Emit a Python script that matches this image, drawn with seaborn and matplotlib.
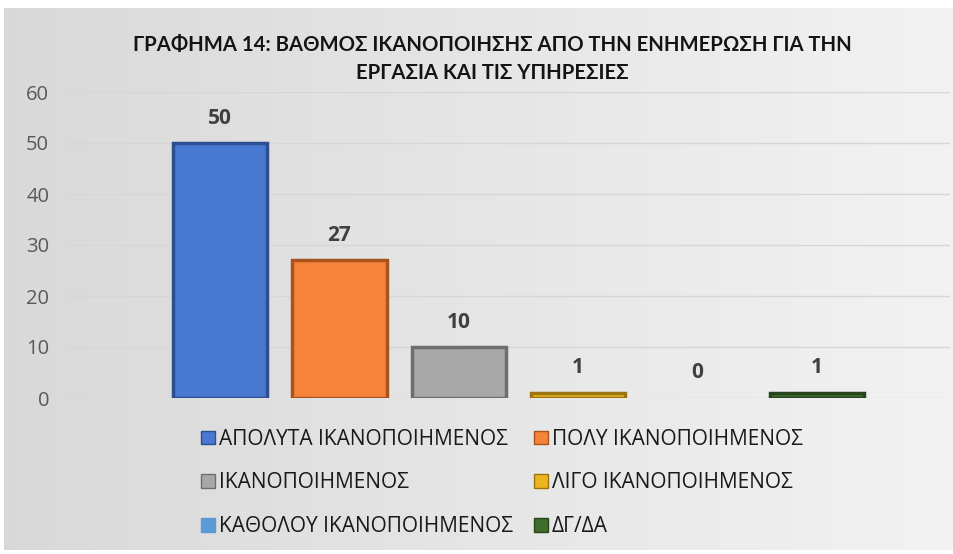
import numpy as np
import pandas as pd
import seaborn as sns
import matplotlib.pyplot as plt
from matplotlib.patches import Patch

categories = ['ΑΠΟΛΥΤΑ ΙΚΑΝΟΠΟΙΗΜΕΝΟΣ', 'ΠΟΛΥ ΙΚΑΝΟΠΟΙΗΜΕΝΟΣ', 'ΙΚΑΝΟΠΟΙΗΜΕΝΟΣ',
              'ΛΙΓΟ ΙΚΑΝΟΠΟΙΗΜΕΝΟΣ', 'ΚΑΘΟΛΟΥ ΙΚΑΝΟΠΟΙΗΜΕΝΟΣ', 'ΔΓ/ΔΑ']
values = [50, 27, 10, 1, 0, 1]
yticks = [0, 10, 20, 30, 40, 50, 60]
title = 'ΓΡΑΦΗΜΑ 14: ΒΑΘΜΟΣ ΙΚΑΝΟΠΟΙΗΣΗΣ ΑΠΟ ΤΗΝ ΕΝΗΜΕΡΩΣΗ ΓΙΑ ΤΗΝ\nΕΡΓΑΣΙΑ ΚΑΙ ΤΙΣ ΥΠΗΡΕΣΙΕΣ'

colors = ['#4878D0', '#F5843A', '#A8A8A8', '#EDB421', '#5B9BD5', '#3F6E2C']
edges = ['#2E4F8F', '#A9541D', '#6E6E6E', '#9C7410', '#5B9BD5', '#26451A']

df = pd.DataFrame({'cat': categories, 'val': values})

sns.set_style('white')
plt.rcParams['font.family'] = ['Open Sans', 'DejaVu Sans']

W, H = 954, 554
fig = plt.figure(figsize=(W / 100, H / 100), dpi=100)
fig.patch.set_facecolor('white')

# chart area background with soft horizontal gradient
bg = fig.add_axes([4 / W, 4 / H, (W - 4) / W, (H - 12) / H])
shade = 0.85 + 0.10 * np.linspace(0, 1, 256)
img = np.dstack([shade, shade, shade]).repeat(2, axis=0)
bg.imshow(img, aspect='auto', extent=[0, 1, 0, 1])
bg.set_axis_off()

# plot area: y=0 at px 398, y=60 at px 92
y0, y60 = 398, 92
ax = fig.add_axes([70 / W, 1 - y0 / H, (950 - 70) / W, (y0 - y60) / H])
ax.patch.set_alpha(0)

sns.barplot(data=df, x='cat', y='val', hue='cat', palette=colors, width=0.79,
            dodge=False, legend=False, ax=ax, saturation=1)
for p, ec, v in zip(ax.patches, edges, values):
    p.set_edgecolor(ec)
    p.set_linewidth(2.5 if v > 0 else 0)

ax.set_ylim(0, 60)
ax.set_xlim(-1.256, 6.114)
ax.set_yticks(yticks)
ax.set_yticklabels([str(t) for t in yticks], fontsize=14.5, color='#595959')
ax.tick_params(axis='y', length=0, pad=15)
ax.set_xticks([])
ax.set_xlabel('')
ax.set_ylabel('')
for s in ax.spines.values():
    s.set_visible(False)
ax.grid(axis='y', color='#d6d6d6', linewidth=1)
ax.set_axisbelow(True)

for i, v in enumerate(values):
    ax.annotate(str(v), (i, v), xytext=(0, 18), textcoords='offset points',
                ha='center', va='center', fontsize=15, fontweight='bold', color='#404040')

fig.text(492 / W, 1 - 59 / H, title, ha='center', va='center', fontsize=14.6,
         fontweight='bold', color='#141414', linespacing=1.55,
         family=['Lato', 'DejaVu Sans'])

# legend fills row by row like the reference
handles = [Patch(facecolor=c, edgecolor=e, linewidth=1) for c, e in zip(colors, edges)]
order = [0, 2, 4, 1, 3, 5]
leg = fig.legend([handles[i] for i in order], [categories[i] for i in order], ncol=2,
                 loc='center', bbox_to_anchor=(502 / W, 1 - 483 / H), frameon=False,
                 fontsize=15, handlelength=0.65, handleheight=0.65, handletextpad=0.2,
                 columnspacing=1.0, labelspacing=1.09)
for t in leg.get_texts():
    t.set_color('#1a1a1a')

fig.savefig('out.png', dpi=100)
